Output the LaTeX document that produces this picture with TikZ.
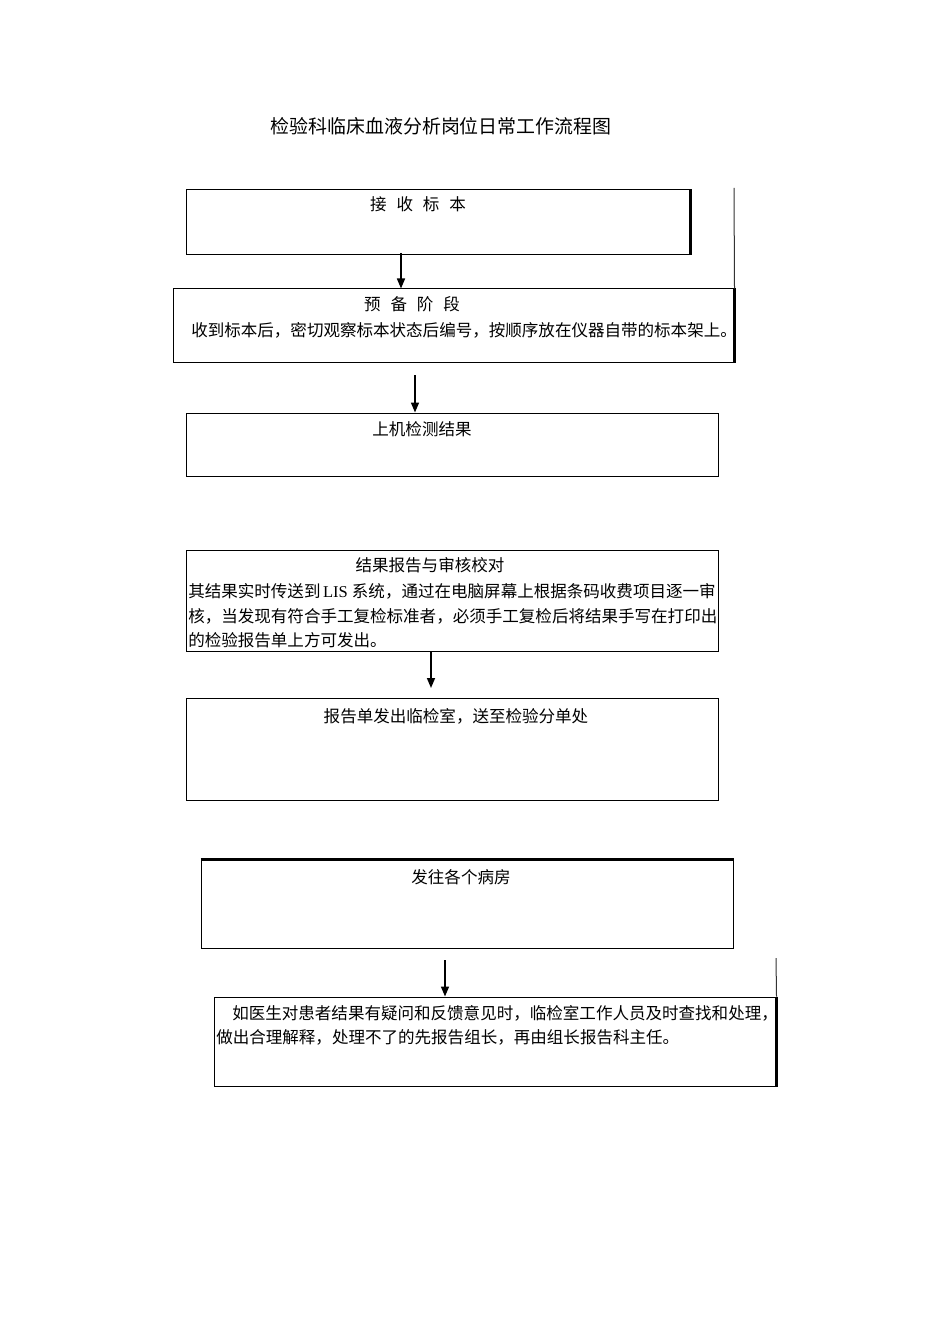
\documentclass[tikz,border=0pt]{standalone}
\usepackage{fontspec}
\setmainfont{Liberation Serif}
\newfontfamily\cjk{Noto Sans CJK SC}
\usetikzlibrary{arrows.meta,fit}
\begin{document}
\begin{tikzpicture}[x=0.75pt,y=-0.75pt,
  box/.style={draw=black,line width=0.75pt,inner sep=0pt},
  thickedge/.style={draw=black,line width=1.6pt},
  thinline/.style={draw=black!80,line width=0.75pt},
  txt/.style={inner sep=0pt,font=\fontsize{12.4pt}{14pt}\selectfont\cjk},
  ttl/.style={inner sep=0pt,font=\fontsize{14.2pt}{16pt}\selectfont\cjk},
  arr/.style={draw=black,line width=1.2pt,-{Triangle[length=7.5pt,width=6pt]}}]
\useasboundingbox (0,0) rectangle (950,1344);
\fill[white] (0,0) rectangle (950,1344);

% title
\node[ttl] (title) at (441,126) {检验科临床血液分析岗位日常工作流程图};

% boxes
\node[box,fit={(186,190) (690,255)}] (b1) {};
\node[box,fit={(173,289) (734,362)}] (b2) {};
\node[box,fit={(186,413) (718,476)}] (b3) {};
\node[box,fit={(186,550) (718,651)}] (b4) {};
\node[box,fit={(186,698) (718,800)}] (b5) {};
\node[box,fit={(201,860) (733,948)}] (b6) {};
\node[box,fit={(214,997) (776,1086)}] (b7) {};

% heavier edges
\draw[thickedge] (b1.north east) -- (b1.south east);
\draw[thickedge] (b2.north east) -- (b2.south east);
\draw[thickedge] (b6.north west) -- (b6.north east);
\draw[thickedge] (b7.north east) -- (b7.south east);

% free vertical lines at the right
\coordinate (v1) at (734,188);
\draw[thinline] (v1) -- (b2.north east);
\coordinate (v2) at (776,958);
\draw[thinline] (v2) -- (b7.north east);

% texts
\node[txt] (t1) at (418,204) {接\hspace{0.6em}收\hspace{0.6em}标\hspace{0.6em}本};
\node[txt] (t2a) at (412,304) {预\hspace{0.6em}备\hspace{0.6em}阶\hspace{0.6em}段};
\node[txt,anchor=west] (t2b) at (191,330) {收到标本后，密切观察标本状态后编号，按顺序放在仪器自带的标本架上。};
\node[txt] (t3) at (422,429) {上机检测结果};
\node[txt] (t4a) at (430,565) {结果报告与审核校对};
\node[txt,anchor=west] (t4b) at (188,591) {其结果实时传送到\fontspec{Liberation Serif}\hspace{0.15em}LIS\hspace{0.25em}\cjk 系统，通过在电脑屏幕上根据条码收费项目逐一审};
\node[txt,anchor=west] (t4c) at (188,616) {核，当发现有符合手工复检标准者，必须手工复检后将结果手写在打印出};
\node[txt,anchor=west] (t4d) at (188,640) {的检验报告单上方可发出。};
\node[txt] (t5) at (456,716) {报告单发出临检室，送至检验分单处};
\node[txt] (t6) at (461,877) {发往各个病房};
\node[txt,anchor=west] (t7a) at (232,1013) {如医生对患者结果有疑问和反馈意见时，临检室工作人员及时查找和处理，};
\node[txt,anchor=west] (t7b) at (216,1037) {做出合理解释，处理不了的先报告组长，再由组长报告科主任。};

% arrows
\coordinate (a1) at (401,253);
\draw[arr] (a1) -- (a1 |- b2.north);
\coordinate (a2) at (415,375);
\draw[arr] (a2) -- (a2 |- b3.north);
\coordinate (a3) at (431,651);
\coordinate (a3e) at (431,688);
\draw[arr] (a3) -- (a3e);
\coordinate (a4) at (445,960);
\draw[arr] (a4) -- (a4 |- b7.north);
\end{tikzpicture}
\end{document}
